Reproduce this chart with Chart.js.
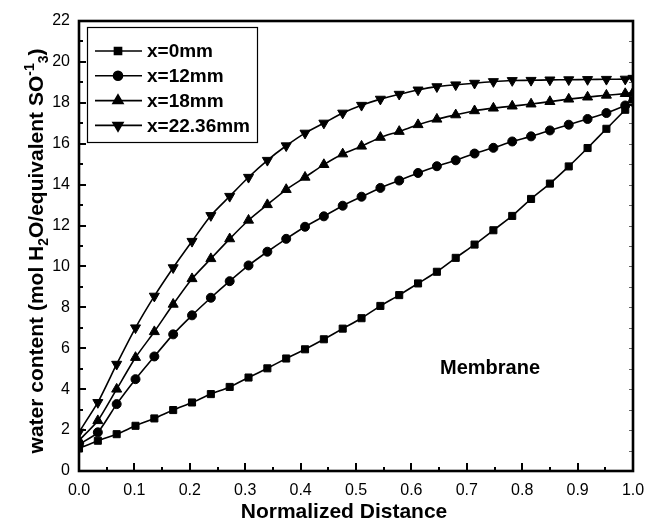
<!DOCTYPE html>
<html>
<head>
<meta charset="utf-8">
<script src="https://cdn.jsdelivr.net/npm/chart.js@4.4.0/dist/chart.umd.min.js"></script>
<style>
    html, body { margin: 0; padding: 0; background: #fff; }
    canvas { display: block; }
</style>
</head>
<body>
<canvas id="WaterContentChart" width="646" height="524"></canvas>
<script>
// normalized distance across the membrane
const Distance = [0, 0.034, 0.068, 0.102, 0.136, 0.170, 0.204, 0.238, 0.272, 0.306,
    0.340, 0.374, 0.408, 0.442, 0.476, 0.510, 0.544, 0.578, 0.612, 0.646,
    0.680, 0.714, 0.748, 0.782, 0.816, 0.850, 0.884, 0.918, 0.952, 0.986, 1.0];

// water content along the channel
const WaterX0 = [1.10, 1.48, 1.80, 2.21, 2.57, 2.98, 3.35, 3.76, 4.11, 4.57,
    5.02, 5.50, 5.95, 6.44, 6.96, 7.47, 8.07, 8.60, 9.17, 9.74,
    10.42, 11.07, 11.77, 12.47, 13.30, 14.05, 14.89, 15.79, 16.73, 17.66, 18.15];
const WaterX12 = [1.30, 1.89, 3.27, 4.49, 5.60, 6.68, 7.61, 8.47, 9.28, 10.05,
    10.72, 11.35, 11.94, 12.45, 12.97, 13.41, 13.84, 14.20, 14.57, 14.90,
    15.19, 15.52, 15.80, 16.11, 16.36, 16.65, 16.93, 17.21, 17.50, 17.87, 18.05];
const WaterX18 = [1.50, 2.46, 4.00, 5.55, 6.81, 8.15, 9.40, 10.38, 11.35, 12.26,
    13.02, 13.76, 14.36, 14.98, 15.50, 15.88, 16.31, 16.60, 16.93, 17.20,
    17.41, 17.61, 17.74, 17.84, 17.94, 18.06, 18.18, 18.28, 18.37, 18.45, 18.50];
const WaterX2236 = [1.90, 3.35, 5.22, 7.00, 8.55, 9.94, 11.23, 12.49, 13.43, 14.36,
    15.19, 15.90, 16.52, 17.01, 17.50, 17.88, 18.18, 18.42, 18.63, 18.79,
    18.88, 18.96, 19.04, 19.09, 19.10, 19.12, 19.13, 19.14, 19.15, 19.16, 19.20];

const SeriesLabels = ['x=0mm', 'x=12mm', 'x=18mm', 'x=22.36mm'];
const XTickLabels = ['0.0', '0.1', '0.2', '0.3', '0.4', '0.5', '0.6', '0.7', '0.8', '0.9', '1.0'];
const YTickLabels = ['0', '2', '4', '6', '8', '10', '12', '14', '16', '18', '20', '22'];

const FontFamily = '"Liberation Sans", Arial, sans-serif';

function toPoints(values) {
    return values.map((v, i) => ({ x: Distance[i], y: v }));
}

function buildDataset(label, values, style, radius, rotation) {
    return {
        label: label,
        data: toPoints(values),
        borderColor: '#000',
        backgroundColor: '#000',
        borderWidth: 1.6,
        pointStyle: style,
        pointRadius: radius,
        pointRotation: rotation,
        pointBackgroundColor: '#000',
        pointBorderColor: '#000',
        pointBorderWidth: 1,
        tension: 0.2,
        clip: 0
    };
}

// draws a string made of runs with their own size and baseline shift
function drawRuns(ctx, runs, cx, baseline) {
    let total = 0;
    for (let r of runs) {
        ctx.font = `bold ${r.size}px ${FontFamily}`;
        r.width = ctx.measureText(r.text).width;
        total += r.width;
    }
    let pos = cx - total / 2;
    ctx.textAlign = 'left';
    ctx.textBaseline = 'alphabetic';
    for (let r of runs) {
        ctx.font = `bold ${r.size}px ${FontFamily}`;
        ctx.fillText(r.text, pos, baseline + (r.shift || 0));
        pos += r.width;
    }
}

//#region Plugins
const axisFrame = {
    id: 'axisFrame',
    afterDatasetsDraw(chart) {
        const { ctx, chartArea: a, scales: { x, y } } = chart;
        ctx.save();
        ctx.strokeStyle = '#000';
        ctx.fillStyle = '#000';

        const xMajor = XTickLabels.map(parseFloat);
        const yMajor = YTickLabels.map(parseFloat);
        const xMinor = xMajor.slice(1).map((v, i) => (v + xMajor[i]) / 2);
        const yMinor = yMajor.slice(1).map((v, i) => (v + yMajor[i]) / 2);

        // ticks point into the plot
        ctx.lineWidth = 2;
        ctx.beginPath();
        for (let v of xMajor) {
            const px = Math.round(x.getPixelForValue(v));
            ctx.moveTo(px, a.bottom); ctx.lineTo(px, a.bottom - 8);
        }
        for (let v of xMinor) {
            const px = Math.round(x.getPixelForValue(v));
            ctx.moveTo(px, a.bottom); ctx.lineTo(px, a.bottom - 4);
        }
        for (let v of yMajor) {
            const py = Math.round(y.getPixelForValue(v));
            ctx.moveTo(a.left, py); ctx.lineTo(a.left + 7, py);
        }
        for (let v of yMinor) {
            const py = Math.round(y.getPixelForValue(v));
            ctx.moveTo(a.left, py); ctx.lineTo(a.left + 4, py);
        }
        ctx.stroke();

        // light ticks on the right side
        ctx.lineWidth = 1;
        ctx.strokeStyle = '#666';
        ctx.beginPath();
        for (let v of yMajor.concat(yMinor)) {
            const py = Math.round(y.getPixelForValue(v)) + 0.5;
            ctx.moveTo(a.right, py); ctx.lineTo(a.right - 4, py);
        }
        ctx.stroke();

        // frame
        ctx.strokeStyle = '#000';
        ctx.lineWidth = 2.6;
        ctx.strokeRect(a.left, a.top, a.right - a.left, a.bottom - a.top);

        // tick labels
        ctx.font = `16px ${FontFamily}`;
        ctx.textAlign = 'center';
        ctx.textBaseline = 'middle';
        XTickLabels.forEach(t => {
            ctx.fillText(t, x.getPixelForValue(parseFloat(t)), a.bottom + 20);
        });
        ctx.textAlign = 'right';
        YTickLabels.forEach(t => {
            ctx.fillText(t, a.left - 9, y.getPixelForValue(parseFloat(t)));
        });

        // axis titles
        ctx.textAlign = 'center';
        ctx.font = `bold 21px ${FontFamily}`;
        ctx.fillText('Normalized Distance', (a.left + a.right) / 2 - 12, a.bottom + 41);

        ctx.save();
        ctx.translate(43, (a.top + a.bottom) / 2 + 5);
        ctx.rotate(-Math.PI / 2);
        drawRuns(ctx, [
            { text: 'water content (mol H', size: 21 },
            { text: '2', size: 14, shift: 5 },
            { text: 'O/equivalent SO', size: 21 },
            { text: '-1', size: 14, shift: -9 },
            { text: '3', size: 14, shift: 5 },
            { text: ')', size: 21 }
        ], 0, 0);
        ctx.restore();

        // region label
        ctx.font = `bold 20px ${FontFamily}`;
        ctx.textAlign = 'center';
        ctx.textBaseline = 'middle';
        ctx.fillText('Membrane', x.getPixelForValue(0.742), y.getPixelForValue(5.0));
        ctx.restore();
    }
};

const boxedLegend = {
    id: 'boxedLegend',
    afterDraw(chart) {
        const { ctx, chartArea: a } = chart;
        const left = a.left + 8, top = a.top + 6;
        const width = 170, height = 115;
        ctx.save();
        ctx.fillStyle = '#fff';
        ctx.fillRect(left, top, width, height);
        ctx.strokeStyle = '#000';
        ctx.lineWidth = 1.2;
        ctx.strokeRect(left + 0.5, top + 0.5, width, height);

        chart.data.datasets.forEach((ds, i) => {
            const rowY = top + 24 + i * 24.8;
            ctx.strokeStyle = '#000';
            ctx.lineWidth = 1.6;
            ctx.beginPath();
            ctx.moveTo(left + 8, rowY);
            ctx.lineTo(left + 55, rowY);
            ctx.stroke();
            ctx.fillStyle = '#000';
            Chart.helpers.drawPoint(ctx, {
                pointStyle: ds.pointStyle,
                radius: ds.pointRadius,
                rotation: ds.pointRotation,
                borderWidth: 1
            }, left + 31, rowY);
            ctx.fillStyle = '#000';
            ctx.font = `bold 19px ${FontFamily}`;
            ctx.textAlign = 'left';
            ctx.textBaseline = 'middle';
            ctx.fillText(ds.label, left + 60, rowY + 1);
        });
        ctx.restore();
    }
};
//#endregion

function setUpChart() {
    new Chart(document.getElementById('WaterContentChart'), {
        type: 'line',
        data: {
            datasets: [
                buildDataset(SeriesLabels[0], WaterX0, 'rect', 5, 0),
                buildDataset(SeriesLabels[1], WaterX12, 'circle', 4.5, 0),
                buildDataset(SeriesLabels[2], WaterX18, 'triangle', 5.8, 0),
                buildDataset(SeriesLabels[3], WaterX2236, 'triangle', 5.8, 180)
            ]
        },
        options: {
            responsive: false,
            animation: false,
            devicePixelRatio: 1,
            layout: {
                padding: { left: 79, top: 21, right: 13, bottom: 53 }
            },
            plugins: {
                legend: { display: false },
                tooltip: { enabled: false }
            },
            scales: {
                x: { type: 'linear', min: 0, max: 1, display: false },
                y: { type: 'linear', min: 0, max: 22, display: false }
            }
        },
        plugins: [axisFrame, boxedLegend]
    });
}

window.addEventListener('load', setUpChart);
</script>
</body>
</html>
